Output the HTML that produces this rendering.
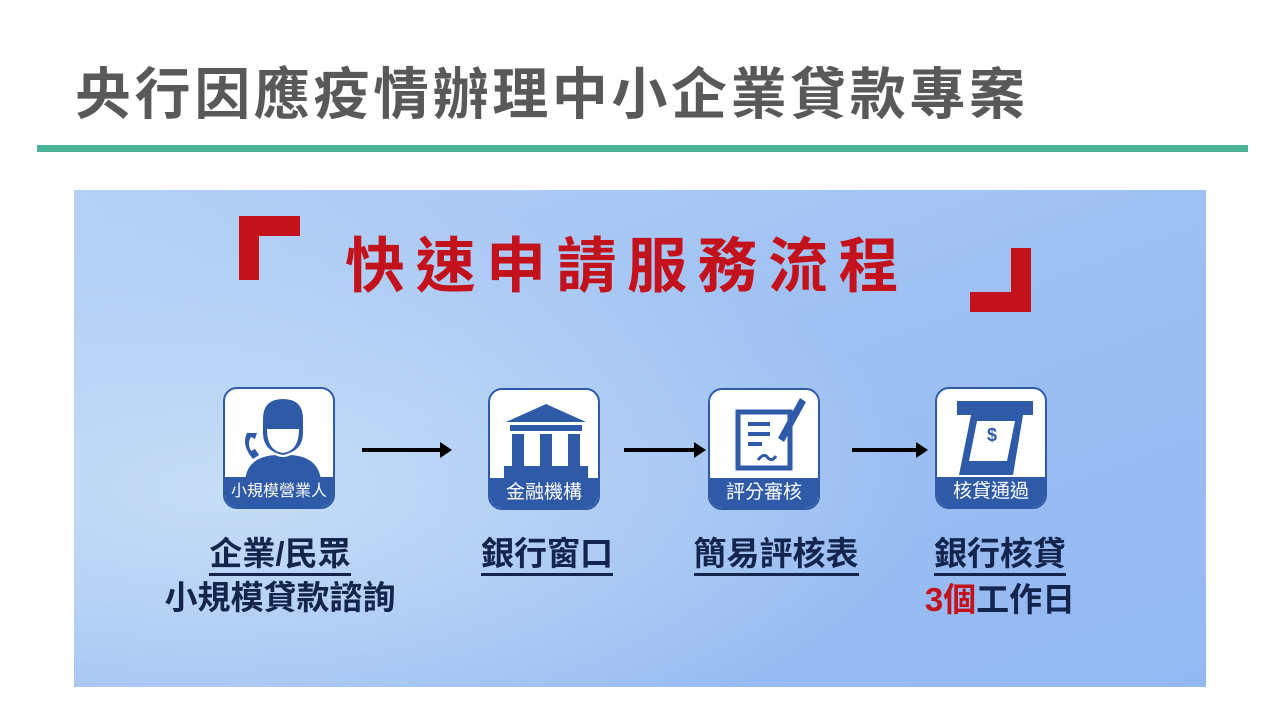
<!DOCTYPE html>
<html><head><meta charset="utf-8"><style>
*{margin:0;padding:0;box-sizing:border-box}
body{width:1280px;height:720px;background:#fff;position:relative;overflow:hidden;font-family:"Liberation Sans","Noto Sans CJK TC",sans-serif}
.abs{position:absolute}
.title{left:75px;top:50px;font-size:56px;font-weight:bold;color:#595959;letter-spacing:3.6px;white-space:nowrap}
.line{left:37px;top:145px;width:1211px;height:7px;background:#4bb39a}
.panel{left:74px;top:190px;width:1132px;height:497px;overflow:hidden;
background:radial-gradient(ellipse 700px 300px at 150px 300px,#c6def7 0%,rgba(198,222,247,0) 100%),linear-gradient(160deg,#b4d0f6 0%,#9ec0f2 45%,#93b8f1 100%)}
.head{left:345px;top:218px;font-size:60px;font-weight:bold;color:#c4121c;letter-spacing:10.5px;white-space:nowrap}
.box{width:112px;height:122px;background:#fff;border:2px solid #2f5aa8;border-radius:14px;overflow:hidden}
.box .lab{position:absolute;left:0;right:0;bottom:0;height:30px;background:#2f5aa8;color:#fff;font-size:19px;text-align:center;line-height:30px;white-space:nowrap}
.arrow{height:4px;background:#000}
.arrow:after{content:"";position:absolute;right:-6px;top:-6px;border-left:12px solid #000;border-top:8px solid transparent;border-bottom:8px solid transparent}
.t{font-size:33px;color:#14254d;font-weight:bold;text-align:center;white-space:nowrap;line-height:42px}
.u{border-bottom:3px solid #14254d;display:inline-block;line-height:38px}
</style></head><body>
<div class="abs title">央行因應疫情辦理中小企業貸款專案</div>
<div class="abs line"></div>
<div class="abs panel"></div>
<svg class="abs" style="left:0;top:0" width="1280" height="720">
<path d="M239 216h61v20h-41v44h-20z" fill="#c4121c"/>
<path d="M1031 312h-61v-20h41v-44h20z" fill="#c4121c"/>
</svg>
<div class="abs head">快速申請服務流程</div>

<div class="abs box" style="left:223px;top:387px">
<svg width="112" height="92"><path d="M38 30q0-20 20-20q20 0 20 20v14q0 18-20 22q-20-4-20-22z" fill="#2f5aa8"/><path d="M42 40q0 22 16 24q16-2 16-24" fill="#fff"/><path d="M20 92q2-24 30-26q8 4 16 0q28 2 30 26z" fill="#2f5aa8"/><path d="M22 44q-6 12 6 26l6-4-4-6-4 2q-4-8 0-14l4 2 2-6z" fill="#2f5aa8"/></svg>
<div class="lab" style="font-size:16px">小規模營業人</div></div>
<div class="abs arrow" style="left:362px;top:448px;width:84px"></div>

<div class="abs box" style="left:488px;top:388px">
<svg width="112" height="92"><path d="M56 14l40 18H16z" fill="#2f5aa8"/><rect x="20" y="35" width="72" height="6" fill="#2f5aa8"/><rect x="22" y="44" width="12" height="32" fill="#2f5aa8"/><rect x="50" y="44" width="12" height="32" fill="#2f5aa8"/><rect x="78" y="44" width="12" height="32" fill="#2f5aa8"/><rect x="14" y="76" width="84" height="16" fill="#2f5aa8"/></svg>
<div class="lab">金融機構</div></div>
<div class="abs arrow" style="left:624px;top:448px;width:76px"></div>

<div class="abs box" style="left:708px;top:388px">
<svg width="112" height="92"><rect x="28" y="22" width="52" height="56" fill="none" stroke="#2f5aa8" stroke-width="5"/><path d="M38 34h22M38 44h22M38 54h14" stroke="#2f5aa8" stroke-width="4"/><path d="M90 8l6 4-22 40-6-4z" fill="#2f5aa8"/><path d="M48 70q6-8 10-2q4 4 8-2" stroke="#2f5aa8" stroke-width="3" fill="none"/></svg>
<div class="lab">評分審核</div></div>
<div class="abs arrow" style="left:852px;top:448px;width:70px"></div>

<div class="abs box" style="left:935px;top:387px">
<svg width="112" height="92"><rect x="20" y="12" width="76" height="14" fill="#2f5aa8"/><path d="M34 26h52l-10 60H22z" fill="#2f5aa8"/><path d="M40 32h38l-8 40H32z" fill="#fff"/><text x="50" y="52" font-size="18" fill="#2f5aa8" font-weight="bold">$</text></svg>
<div class="lab">核貸通過</div></div>

<div class="abs t" style="left:180px;top:533px;width:200px"><span class="u">企業/民眾</span></div>
<div class="abs t" style="left:130px;top:577px;width:300px">小規模貸款諮詢</div>
<div class="abs t" style="left:447px;top:533px;width:200px"><span class="u">銀行窗口</span></div>
<div class="abs t" style="left:676px;top:533px;width:200px"><span class="u">簡易評核表</span></div>
<div class="abs t" style="left:900px;top:533px;width:200px"><span class="u">銀行核貸</span></div>
<div class="abs t" style="left:900px;top:579px;width:200px"><span style="color:#c4121c">3個</span>工作日</div>
</body></html>
